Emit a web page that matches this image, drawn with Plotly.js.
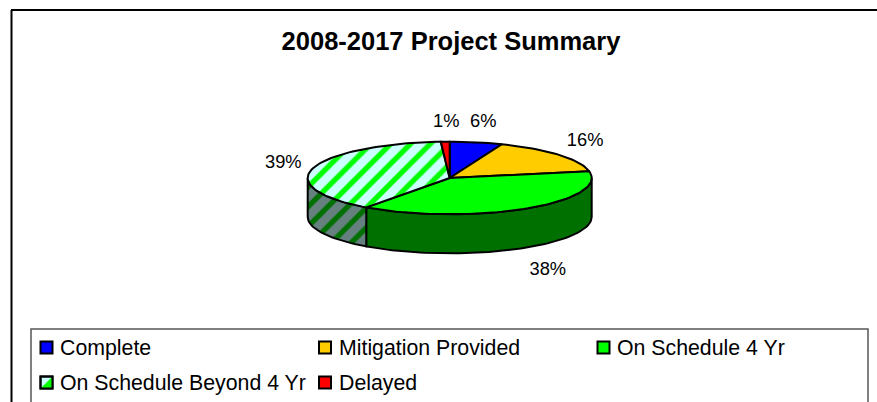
<!DOCTYPE html>
<html><head><meta charset="utf-8">
<script src="https://cdn.plot.ly/plotly-3.0.0.min.js"></script>
<style>html,body{margin:0;padding:0;background:#fff;overflow:hidden}</style>
</head><body><div id="chart" style="width:877px;height:402px"></div>
<script>
const titleText = '2008-2017 Project Summary';
const categories = ['Complete','Mitigation Provided','On Schedule 4 Yr','On Schedule Beyond 4 Yr','Delayed'];
const values = [6,16,38,39,1];
const topColors = ['#0000ff','#ffcc00','#00ff00','#ccffff','#ff0000'];
const wallColors = ['#00007f','#7f6600','#007000','#668080','#7f0000'];
const hatchColors = [null,null,null,'#00ff00',null];
const wallHatchColors = [null,null,null,'#007000',null];

// pie geometry (px-based axes)
const cx=449.7, cy=178, rx=142, ry=36.3, depth=39;
// label nudges relative to the rim point at each slice's mid angle
const labelNudgeX=[7,26,22,-30,1], labelNudgeY=[-19.5,-13.5,61.5,-4.5,-19.5];
// legend grid
const legendLeft=40.5, legendTop=347.5, colStep=278.5, rowStep=35, swatch=12, textGap=5.5;

const pt=(deg,dy=0)=>{const a=deg*Math.PI/180;return [cx+rx*Math.sin(a),cy-ry*Math.cos(a)+dy];};
const arc=(a,b,dy=0)=>{const o=[];const n=Math.max(2,Math.ceil(Math.abs(b-a)/2));for(let i=0;i<=n;i++)o.push(pt(a+(b-a)*i/n,dy));return o;};
const total=values.reduce((s,v)=>s+v,0);
let acc=0;const starts=[],ends=[];
values.forEach(v=>{starts.push(acc/total*360);acc+=v;ends.push(acc/total*360);});

const styled=(xs,ys,fill,hatch,name)=>{
  const t={type:'scatter',mode:'lines',x:xs,y:ys,fill:'toself',fillcolor:fill,name,
    line:{color:'#000',width:2},hoverinfo:'name',showlegend:false};
  if(hatch)t.fillpattern={shape:'/',bgcolor:fill,fgcolor:hatch,size:14,solidity:0.38,fillmode:'replace'};
  return t;
};
const traces=[];
// walls
categories.forEach((c,i)=>{
  const a=Math.max(starts[i],90),b=Math.min(ends[i],270);
  if(b<=a)return;
  const poly=arc(a,b).concat(arc(b,a,depth));poly.push(poly[0]);
  traces.push(styled(poly.map(p=>p[0]),poly.map(p=>p[1]),wallColors[i],wallHatchColors[i],c));
});
// tops
categories.forEach((c,i)=>{
  const poly=[[cx,cy]].concat(arc(starts[i],ends[i]));poly.push([cx,cy]);
  traces.push(styled(poly.map(p=>p[0]),poly.map(p=>p[1]),topColors[i],hatchColors[i],c));
});
// percent labels
const mids=starts.map((s,i)=>(s+ends[i])/2);
traces.push({type:'scatter',mode:'text',
  x:mids.map((m,i)=>pt(m)[0]+labelNudgeX[i]),
  y:mids.map((m,i)=>pt(m)[1]+labelNudgeY[i]),
  text:values.map(v=>Math.round(v/total*100)+'%'),
  textposition:'middle center',
  textfont:{family:'"Liberation Sans",Arial,sans-serif',size:18.3,color:'#000'},
  hoverinfo:'skip',showlegend:false});

const shapes=[
  {type:'line',xref:'x',yref:'y',x0:11.5,x1:11.5,y0:10,y1:402,line:{color:'#000',width:2}},
  {type:'line',xref:'x',yref:'y',x0:11,x1:877,y0:10,y1:10,line:{color:'#000',width:2}},
  {type:'rect',xref:'x',yref:'y',x0:31,x1:868,y0:329,y1:420,line:{color:'#555',width:1.5},fillcolor:'#fff',layer:'below'}
];
const annotations=[];
categories.forEach((c,i)=>{
  const col=i%3,row=Math.floor(i/3);
  const x=legendLeft+col*colStep,y=legendTop+row*rowStep;
  shapes.push({type:'rect',xref:'x',yref:'y',x0:x,x1:x+swatch,y0:y-swatch/2,y1:y+swatch/2,
    fillcolor:topColors[i],line:{color:'#000',width:2}});
  if(hatchColors[i]){
    const a=x+swatch,b=y+swatch/2,t=y-swatch/2;
    shapes.push({type:'path',xref:'x',yref:'y',path:`M${x},${b}L${a},${t}L${a},${b}Z`,fillcolor:hatchColors[i],line:{width:0}});
    shapes.push({type:'rect',xref:'x',yref:'y',x0:x,x1:a,y0:t,y1:b,line:{color:'#000',width:2},fillcolor:'rgba(0,0,0,0)'});
  }
  annotations.push({xref:'x',yref:'y',x:x+swatch+textGap,y,text:c,showarrow:false,xanchor:'left',yanchor:'middle',
    font:{family:'"Liberation Sans",Arial,sans-serif',size:21.3,color:'#000'}});
});

Plotly.newPlot('chart',traces,{
  width:877,height:402,margin:{l:0,r:0,t:0,b:0},
  paper_bgcolor:'#fff',plot_bgcolor:'#fff',showlegend:false,
  title:{text:titleText,x:451/877,xanchor:'center',y:1-41.5/402,yanchor:'middle',
    font:{family:'"Liberation Sans",Arial,sans-serif',size:25.5,weight:'bold',color:'#000'}},
  xaxis:{range:[0,877],visible:false,fixedrange:true},
  yaxis:{range:[402,0],visible:false,fixedrange:true},
  shapes,annotations
},{displayModeBar:false,staticPlot:true});
</script></body></html>
